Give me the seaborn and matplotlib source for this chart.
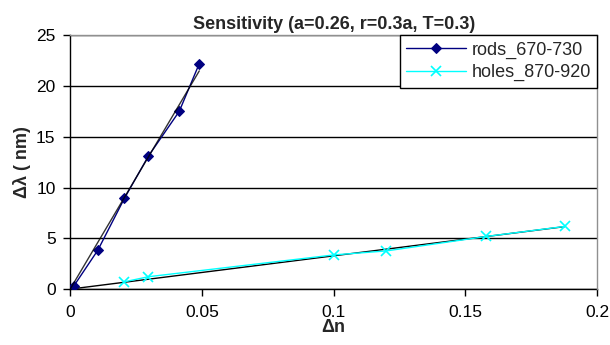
import numpy as np
import pandas as pd
import matplotlib
matplotlib.use("Agg")
import matplotlib.pyplot as plt
import seaborn as sns

# Data
rods_dn = [0.0015, 0.0105, 0.0206, 0.0297, 0.0414, 0.049]
rods_dl = [0.35, 3.83, 8.94, 13.1, 17.5, 22.2]
holes_dn = [0.0206, 0.0297, 0.1002, 0.12, 0.1578, 0.1877]
holes_dl = [0.72, 1.22, 3.37, 3.76, 5.18, 6.17]

x_ticks = [0, 0.05, 0.1, 0.15, 0.2]
x_tick_labels = ["0", "0.05", "0.1", "0.15", "0.2"]
y_ticks = [0, 5, 10, 15, 20, 25]

sns.set_theme(style="white")
plt.rcParams["font.family"] = ["Liberation Sans", "DejaVu Sans"]

fig = plt.figure(figsize=(6.1, 3.45), dpi=100)
ax = fig.add_axes([0.115, 0.162, 0.864, 0.736])

rods = pd.DataFrame({"dn": rods_dn, "dl": rods_dl})
holes = pd.DataFrame({"dn": holes_dn, "dl": holes_dl})

# Linear trendlines through origin (least squares)
def trend(df):
    x = np.array(df["dn"]); y = np.array(df["dl"])
    k = (x * y).sum() / (x * x).sum()
    xs = np.array([0.0, x.max()])
    return pd.DataFrame({"dn": xs, "dl": k * xs})

sns.lineplot(data=rods, x="dn", y="dl", ax=ax, color="#000080", marker="D",
             markersize=5.5, markeredgecolor="#000080", linewidth=1.0,
             label="rods_670-730", zorder=3)
sns.lineplot(data=holes, x="dn", y="dl", ax=ax, color="#00FFFF", marker="x",
             markersize=7, markeredgewidth=1.2, markeredgecolor="#00FFFF",
             linewidth=1.0, label="holes_870-920", zorder=3)
sns.lineplot(data=trend(rods), x="dn", y="dl", ax=ax, color="black",
             linewidth=1.0, legend=False, zorder=4, alpha=0.8)
sns.lineplot(data=trend(holes), x="dn", y="dl", ax=ax, color="black",
             linewidth=1.0, legend=False, zorder=2)

ax.set_xlim(0, 0.2)
ax.set_ylim(0, 25)
ax.set_xticks(x_ticks)
ax.set_xticklabels(x_tick_labels)
ax.set_yticks(y_ticks)
ax.yaxis.grid(True, color="black", linewidth=1.0)
ax.xaxis.grid(False)
ax.set_axisbelow(True)

for s in ["left", "bottom"]:
    ax.spines[s].set_color("black")
    ax.spines[s].set_linewidth(1.0)
for s in ["right", "top"]:
    ax.spines[s].set_color("#909090")
    ax.spines[s].set_linewidth(1.0)
    ax.spines[s].set_zorder(5)

ax.tick_params(axis="both", which="major", direction="out", length=5,
               width=1.0, color="black", labelsize=12.5, labelcolor="black",
               bottom=True, left=True)
ax.tick_params(axis="y", pad=5.5)
ax.tick_params(axis="x", pad=6.5)

ax.set_xlabel("Δn", fontsize=13, fontweight="bold", labelpad=-1)
ax.set_ylabel("Δλ ( nm)", fontsize=13, fontweight="bold", labelpad=4)
ax.set_title("Sensitivity (a=0.26, r=0.3a, T=0.3)", fontsize=13,
             fontweight="bold", pad=4.5)

leg = ax.legend(loc="upper right", borderaxespad=0, fontsize=13,
                frameon=True, fancybox=False, edgecolor="black",
                handlelength=3.3, handletextpad=0.3, borderpad=0.35,
                labelspacing=0.3)
leg.get_frame().set_linewidth(1.0)
leg.get_frame().set_alpha(1.0)

fig.savefig("out.png", dpi=100)
